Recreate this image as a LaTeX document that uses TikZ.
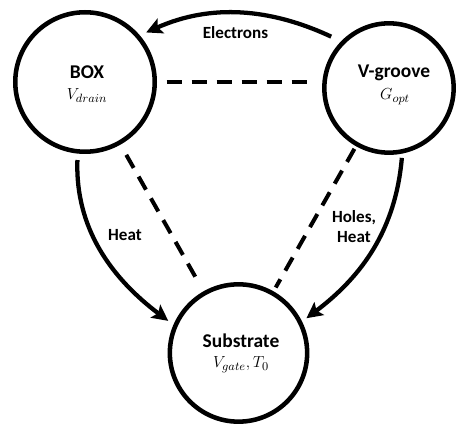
\documentclass[tikz,border=0pt]{standalone}
\usepackage{fontspec}
\setmainfont{Carlito}
\usetikzlibrary{arrows.meta}
\begin{document}
\begin{tikzpicture}[x=0.75pt,y=0.75pt,
  state/.style={circle,draw,line width=3.4pt,inner sep=0pt,outer sep=0pt},
  title/.style={font=\fontsize{14.6}{16}\selectfont\bfseries,anchor=base,inner sep=0pt},
  param/.style={font=\fontsize{12.5}{14}\selectfont,anchor=base,inner sep=0pt},
  flowlabel/.style={font=\fontsize{12.8}{15}\selectfont\bfseries,inner sep=0pt,align=center},
  flow/.style={line width=3.2pt,-{Stealth[length=12pt,width=12pt,inset=2.5pt]}},
  link/.style={line width=3pt,dash pattern=on 11.25pt off 7.5pt}]
\useasboundingbox (0,0) rectangle (458,-424);

% the three regions
\node[state,minimum size=104.6pt] (box) at (85,-82) {};
\node[state,minimum size=97pt]    (vg)  at (389,-88) {};
\node[state,minimum size=103pt]   (sub) at (238.5,-353) {};

\node[title] (boxname) at (87,-79) {BOX};
\node[param] (boxpar)  at (87,-100) {$V_{drain}$};
\node[title] (vgname)  at (394,-78) {V-groove};
\node[param] (vgpar)   at (395,-100) {$G_{opt}$};
\node[title] (subname) at (241,-348) {Substrate};
\node[param] (subpar)  at (241,-368) {$V_{gate},T_0$};

% coupling between regions
\draw[link,shorten <=9pt,shorten >=9pt] (box.east) -- (box.east -| vg.west);
\draw[link,shorten <=10.5pt,shorten >=10.3pt] (box) -- (sub);
\draw[link,shorten <=4pt,shorten >=5pt] (vg) -- (sub);

% carrier and heat flows
\draw[flow,shorten <=10pt,shorten >=7pt] (vg.135) to[out=155,in=24] (box.41);
\draw[flow,shorten <=6.5pt,shorten >=6.6pt] (box.-96) to[out=-92,in=143] (sub.157);
\draw[flow,shorten <=5pt,shorten >=5.8pt] (vg.-78) to[out=-95,in=37] (sub.26);

\node[flowlabel] (lelec) at (235.5,-33) {Electrons};
\node[flowlabel] (lheat) at (125,-235) {Heat};
\node[flowlabel] (lholes) at (354,-227) {Holes,\\Heat};
\end{tikzpicture}
\end{document}
